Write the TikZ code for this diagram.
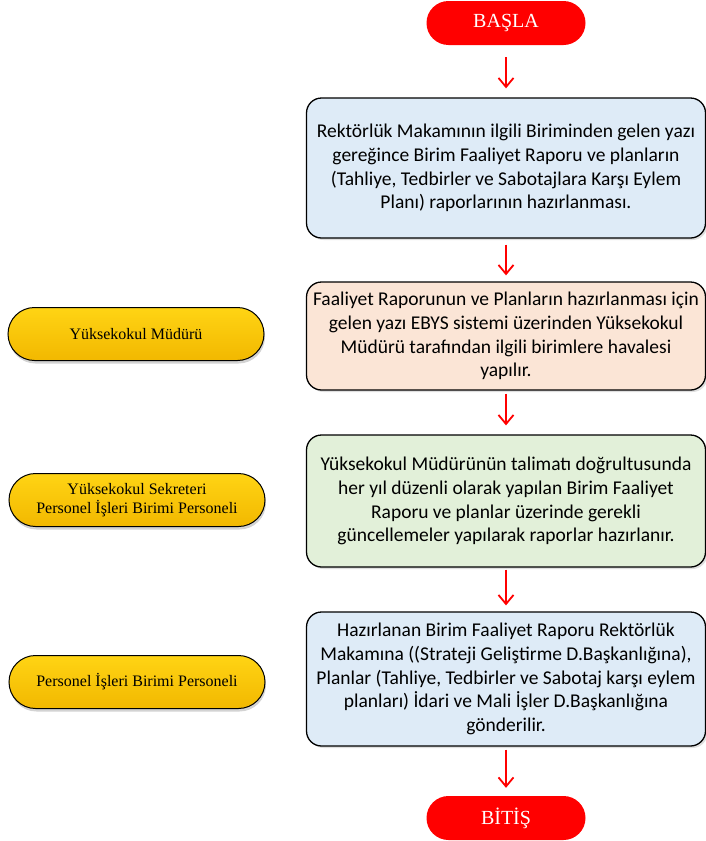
\documentclass[tikz,border=0pt]{standalone}
\usepackage{fontspec}
\setmainfont{Liberation Serif}
\newfontfamily\boxfont{Carlito}
\usetikzlibrary{arrows.meta,shapes.misc,shadows}
\definecolor{boxblue}{HTML}{DEEBF7}
\definecolor{boxpeach}{HTML}{FBE5D6}
\definecolor{boxgreen}{HTML}{E2F0D9}
\definecolor{roletop}{RGB}{255,212,20}
\definecolor{rolemid}{RGB}{255,204,0}
\definecolor{rolebot}{RGB}{242,184,0}
\begin{document}
\begin{tikzpicture}[x=1pt,y=-1pt,
  every node/.style={inner sep=0pt},
  terminal/.style={rounded rectangle, fill=red, text=white,
    font=\fontsize{20}{24}\selectfont, minimum width=159pt, minimum height=44pt},
  stepbox/.style={draw=black, line width=1.3pt, rounded corners=15pt,
    minimum width=399pt, align=center,
    font=\boxfont\fontsize{19.5}{23.8}\selectfont,
    drop shadow={opacity=0.25, shadow xshift=2pt, shadow yshift=-2pt}},
  role/.style={rounded rectangle, draw=black, line width=1pt,
    top color=roletop, middle color=rolemid, bottom color=rolebot,
    minimum width=256pt, minimum height=53pt, align=center,
    font=\fontsize{16}{19}\selectfont,
    drop shadow={opacity=0.35, shadow xshift=1pt, shadow yshift=-3pt}},
  flow/.style={red, line width=1.8pt, -{Straight Barb[length=9pt,width=15pt]}}
]
\useasboundingbox (0,0) rectangle (706,841);

\node[terminal] (start) at (506,23) {BAŞLA};
\node[stepbox, fill=boxblue, minimum height=140pt] (s1) at (506,168)
  {Rektörlük Makamının ilgili Biriminden gelen yazı\\
   gereğince Birim Faaliyet Raporu ve planların\\
   (Tahliye, Tedbirler ve Sabotajlara Karşı Eylem\\
   Planı) raporlarının hazırlanması.};
\node[stepbox, fill=boxpeach, minimum height=108pt] (s2) at (506,336)
  {Faaliyet Raporunun ve Planların hazırlanması için\\
   gelen yazı EBYS sistemi üzerinden Yüksekokul\\
   Müdürü tarafından ilgili birimlere havalesi\\
   yapılır.};
\node[stepbox, fill=boxgreen, minimum height=132pt] (s3) at (506,501)
  {Yüksekokul Müdürünün talimatı doğrultusunda\\
   her yıl düzenli olarak yapılan Birim Faaliyet\\
   Raporu ve planlar üzerinde gerekli\\
   güncellemeler yapılarak raporlar hazırlanır.};
\node[stepbox, fill=boxblue, minimum height=134pt] (s4) at (506,679)
  {Hazırlanan Birim Faaliyet Raporu Rektörlük\\
   Makamına ((Strateji Geliştirme D.Başkanlığına),\\
   Planlar (Tahliye, Tedbirler ve Sabotaj karşı eylem\\
   planları) İdari ve Mali İşler D.Başkanlığına\\
   gönderilir.};
\node[terminal] (end) at (506,818) {BİTİŞ};

\node[role] (r1) at (136,334) {Yüksekokul Müdürü};
\node[role] (r2) at (137,500) {Yüksekokul Sekreteri\\Personel İşleri Birimi Personeli};
\node[role] (r3) at (137,682) {Personel İşleri Birimi Personeli};

\draw[flow, shorten <=12pt, shorten >=9pt] (start) -- (s1);
\draw[flow, shorten <=6pt, shorten >=6pt] (s1) -- (s2);
\draw[flow, shorten <=3pt, shorten >=9pt] (s2) -- (s3);
\draw[flow, shorten <=2pt, shorten >=6pt] (s3) -- (s4);
\draw[flow, shorten <=3pt, shorten >=8pt] (s4) -- (end);
\end{tikzpicture}
\end{document}
